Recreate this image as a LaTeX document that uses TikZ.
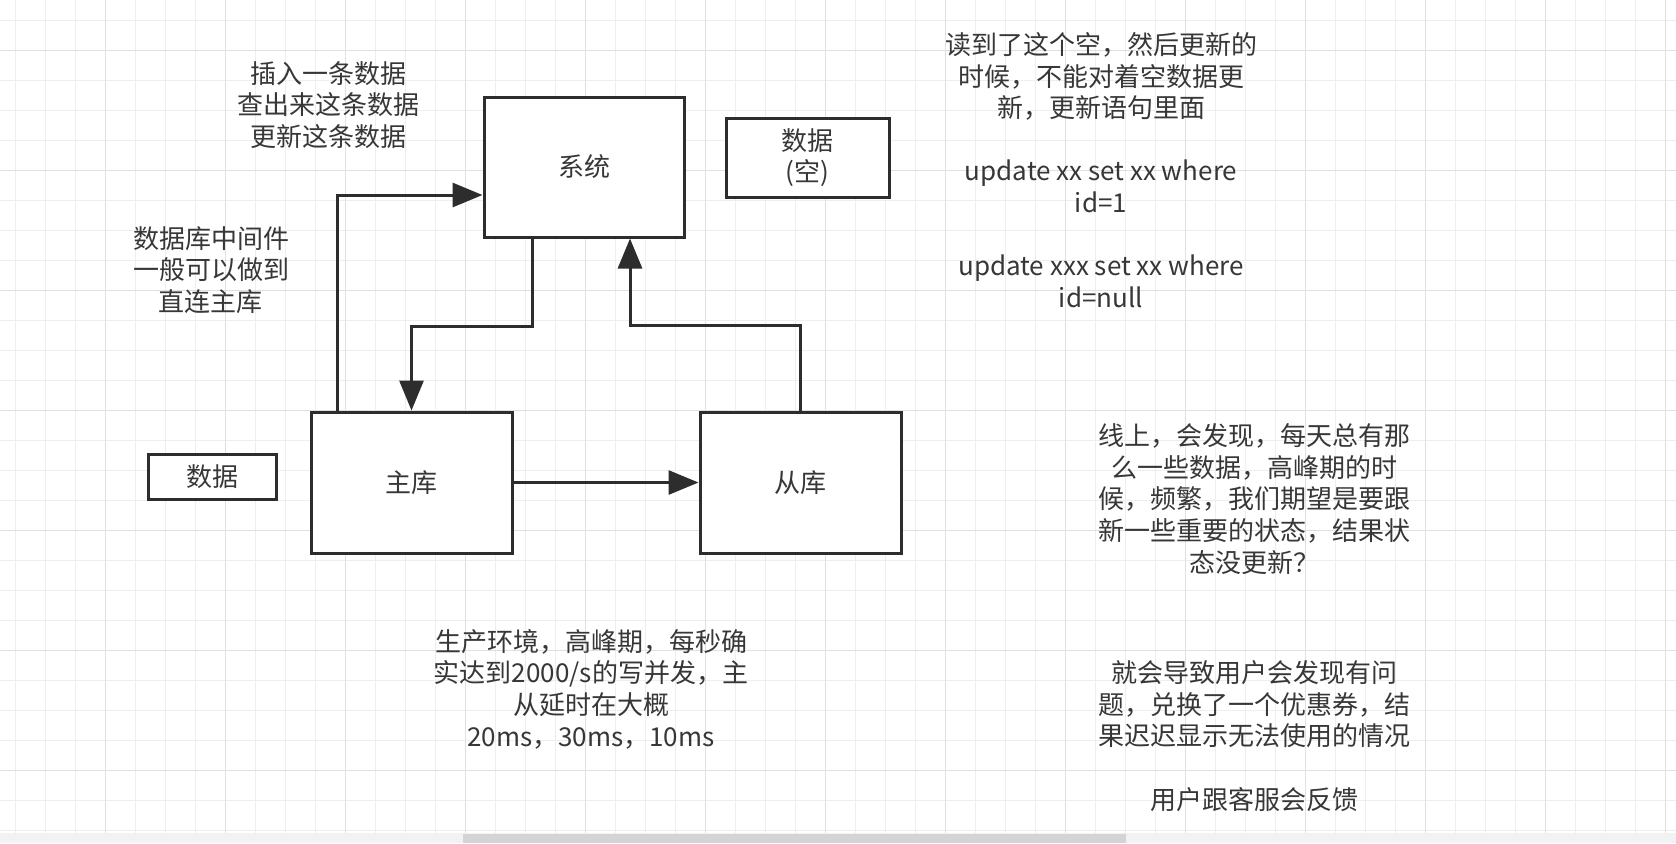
\documentclass[tikz,border=0pt]{standalone}
\usepackage{fontspec}
\setmainfont{Noto Sans CJK SC}
\usepackage{xcolor}
\usetikzlibrary{arrows.meta, positioning}
\definecolor{ink}{RGB}{45,45,45}
\definecolor{txt}{RGB}{55,55,55}
\definecolor{gridminor}{RGB}{238,238,238}
\definecolor{gridmajor}{RGB}{224,224,224}
\definecolor{barbg}{RGB}{242,242,242}
\definecolor{thumb}{RGB}{212,212,212}

\begin{document}
\begin{tikzpicture}[x=0.5pt, y=-0.5pt,
      every node/.style={font=\fontsize{13pt}{15.8pt}\selectfont, text=txt},
      box/.style={draw=ink, fill=white, line width=1.5pt, inner sep=0pt, align=center},
      note/.style={align=center, inner sep=0pt},
      ar/.style={-{Triangle[length=15pt, width=12pt]}, draw=ink, line width=1.5pt}]
    % canvas and grid
    \useasboundingbox (0,0) rectangle (1676,843);
    \fill[white] (0,0) rectangle (1676,843);
    \foreach \gx in {15,45,...,1665} \draw[gridminor, line width=0.5pt] (\gx,0) -- (\gx,833);
    \foreach \gy in {20,50,...,830} \draw[gridminor, line width=0.5pt] (0,\gy) -- (1676,\gy);
    \foreach \gx in {105,225,...,1665} \draw[gridmajor, line width=0.5pt] (\gx,0) -- (\gx,833);
    \foreach \gy in {50,170,...,830} \draw[gridmajor, line width=0.5pt] (0,\gy) -- (1676,\gy);
    \fill[barbg] (0,833) rectangle (1676,843);
    \fill[thumb] (463,834) rectangle (1126,843);

    % boxes
    \node[box, minimum width=100pt, minimum height=70pt] (xitong) at (584,167) {系统};
    \node[box, minimum width=81.5pt, minimum height=39.5pt] (kong) at (807.5,157.5) {数据\\(空)};
    \node[box, minimum width=100.5pt, minimum height=70.5pt] (zhu) at (411.5,482.5) {主库};
    \node[box, minimum width=100.5pt, minimum height=70.5pt] (cong) at (800.5,482.5) {从库};
    \node[box, minimum width=64pt, minimum height=22.5pt] (shuju) at (212,476.5) {数据};

    % notes
    \node[note] (steps) at (328,105) {插入一条数据\\查出来这条数据\\更新这条数据};
    \node[note] (mid) at (211,270) {数据库中间件\\一般可以做到\\直连主库};
    \node[note] (upd) at (1101,170) {读到了这个空，然后更新的\\时候，不能对着空数据更\\新，更新语句里面\\[15.8pt]
      update xx set xx where\\id=1\\[15.8pt]update xxx set xx where\\id=null};
    \node[note] (online) at (1254,499) {线上，会发现，每天总有那\\么一些数据，高峰期的时\\候，频繁，我们期望是要跟\\新一些重要的状态，结果状\\态没更新？};
    \node[note] (user) at (1254,736) {就会导致用户会发现有问\\题，兑换了一个优惠券，结\\果迟迟显示无法使用的情况\\[15.8pt]用户跟客服会反馈};
    \node[note] (prod) at (591,689) {生产环境，高峰期，每秒确\\实达到2000/s的写并发，主\\从延时在大概\\20ms，30ms，10ms};

    % connectors
    \draw[ar] ([xshift=14pt]zhu.north west) |- ([yshift=-14pt]xitong.west);
    \draw[ar] ([xshift=25pt]xitong.south west) -- ++(0,-44pt) -| (zhu.north);
    \draw[ar] (cong.north) -- ++(0,42.5pt) -| ([xshift=23pt]xitong.south);
    \draw[ar] (zhu) -- (cong);
\end{tikzpicture}
\end{document}
